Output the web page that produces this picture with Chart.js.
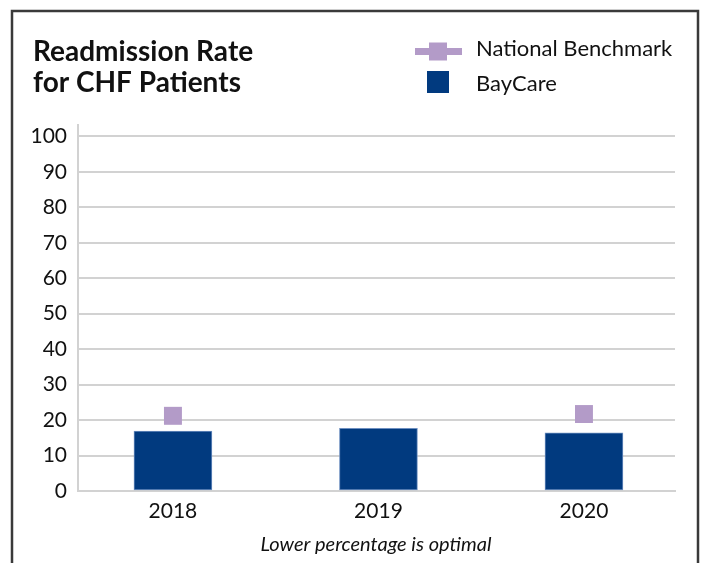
<!DOCTYPE html>
<html>
<head>
<meta charset="utf-8">
<script src="https://cdn.jsdelivr.net/npm/chart.js@4"></script>
<style>
  html, body { margin: 0; padding: 0; background: #fff; }
  #wrap { width: 704px; height: 563px; }
</style>
</head>
<body>
<div id="wrap"><canvas id="chart" width="704" height="563"></canvas></div>
<script>
const years = ['2018', '2019', '2020'];
const bayCare = [16.9, 17.7, 16.4];
const benchmark = [21.2, null, 21.7];
const yTicks = [0, 10, 20, 30, 40, 50, 60, 70, 80, 90, 100];

const titleLines = ['Readmission Rate', 'for CHF Patients'];
const footnote = 'Lower percentage is optimal';

const navy = '#013a7f';
const lilac = '#b39bc8';
const gridGray = '#d2d2d2';
const fontName = 'Lato, "Open Sans", sans-serif';

// frame, title, legend and note drawn around the chart area
const decorPlugin = {
  id: 'decor',
  beforeDraw(chart) {
    const ctx = chart.ctx;
    ctx.save();
    ctx.strokeStyle = '#3a3a3a';
    ctx.lineWidth = 2.5;
    ctx.beginPath();
    ctx.moveTo(12, 580);
    ctx.lineTo(12, 11);
    ctx.lineTo(698, 11);
    ctx.lineTo(698, 580);
    ctx.stroke();
    ctx.restore();
  },
  afterDraw(chart) {
    const ctx = chart.ctx;
    ctx.save();
    ctx.fillStyle = '#111';
    ctx.textBaseline = 'alphabetic';
    ctx.font = 'bold 28px ' + fontName;
    ctx.fillText(titleLines[0], 33, 61);
    ctx.fillText(titleLines[1], 33, 92);

    const sets = chart.data.datasets;
    // line-with-marker entry
    const line = sets.find(d => d.type === 'line');
    ctx.fillStyle = line.borderColor;
    ctx.fillRect(415, 48, 47, 7);
    ctx.fillRect(429, 42.5, 18, 18);
    // bar entry
    const bar = sets.find(d => d.type === 'bar');
    ctx.fillStyle = bar.backgroundColor;
    ctx.fillRect(427, 71, 22, 22);

    ctx.fillStyle = '#111';
    ctx.font = '22px ' + fontName;
    ctx.textBaseline = 'middle';
    ctx.fillText(line.label, 476, 49);
    ctx.fillText(bar.label, 476, 84);

    ctx.font = 'italic 20px ' + fontName;
    ctx.textAlign = 'center';
    ctx.fillText(footnote, 376, 545);
    ctx.restore();
  }
};

new Chart(document.getElementById('chart'), {
  data: {
    datasets: [
      {
        type: 'line',
        label: 'National Benchmark',
        data: benchmark.map((v, i) => ({ x: i, y: v })),
        borderColor: lilac,
        backgroundColor: lilac,
        borderWidth: 7,
        spanGaps: false,
        pointStyle: 'rect',
        pointRadius: 12.7,
        pointBorderWidth: 0,
        pointBackgroundColor: lilac,
        order: 0
      },
      {
        type: 'bar',
        label: 'BayCare',
        data: bayCare.map((v, i) => ({ x: i, y: v })),
        backgroundColor: navy,
        borderColor: '#6d8fc0',
        borderWidth: 1,
        borderSkipped: false,
        barThickness: 78,
        order: 1
      }
    ]
  },
  options: {
    responsive: false,
    animation: false,
    events: [],
    layout: { padding: { top: 125, right: 29, left: 0, bottom: 0 } },
    plugins: {
      legend: { display: false },
      title: { display: false },
      tooltip: { enabled: false }
    },
    scales: {
      x: {
        type: 'linear',
        offset: false,
        min: -0.462,
        max: 2.443,
        afterBuildTicks(scale) {
          scale.ticks = years.map((y, i) => ({ value: i }));
        },
        afterFit(scale) { scale.height = 72; },
        grid: { display: false },
        border: { display: true, color: gridGray, width: 2 },
        ticks: {
          padding: 0,
          color: '#111',
          font: { family: fontName, size: 21 },
          callback: (v) => years[v]
        }
      },
      y: {
        min: 0,
        max: 103.2,
        afterBuildTicks(scale) {
          scale.ticks = yTicks.map(v => ({ value: v }));
        },
        afterFit(scale) { scale.width = 78; },
        grid: { color: gridGray, lineWidth: 2, drawTicks: false },
        border: { display: true, color: gridGray, width: 2 },
        ticks: {
          padding: 11,
          color: '#111',
          font: { family: fontName, size: 21 }
        }
      }
    }
  },
  plugins: [decorPlugin]
});
</script>
</body>
</html>
